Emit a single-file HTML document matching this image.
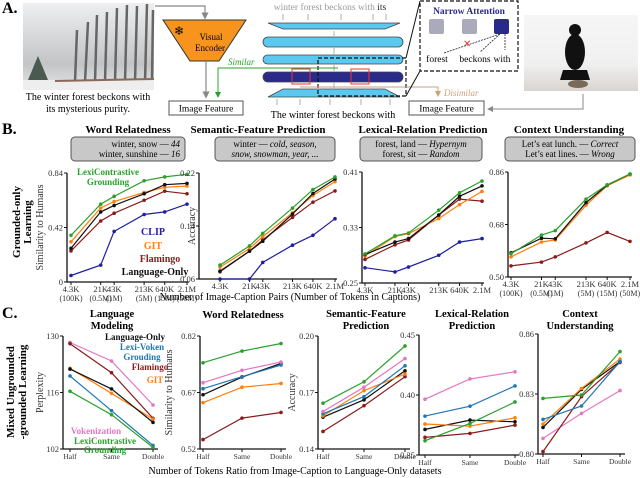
<!DOCTYPE html>
<html><head><meta charset="utf-8"><style>
html,body{margin:0;padding:0;background:#fff;}
svg{display:block;font-family:"Liberation Serif",serif;}
</style></head><body>
<svg id="fig" width="640" height="478" viewBox="0 0 640 478" xmlns="http://www.w3.org/2000/svg">
<defs>
<linearGradient id="sky" x1="0" y1="0" x2="0" y2="1"><stop offset="0" stop-color="#eeeff1"/><stop offset="0.7" stop-color="#c2c4c6"/><stop offset="1" stop-color="#e6e6e8"/></linearGradient>
<linearGradient id="floor" x1="0" y1="0" x2="0" y2="1"><stop offset="0" stop-color="#f6f6f6"/><stop offset="0.65" stop-color="#f0f0f0"/><stop offset="1" stop-color="#d9d4d0"/></linearGradient>
<marker id="ah" markerWidth="6" markerHeight="6" refX="3" refY="3" orient="auto"><path d="M0,0 L6,3 L0,6 z" fill="#888"/></marker>
<marker id="ahg" markerWidth="6" markerHeight="6" refX="3" refY="3" orient="auto"><path d="M0,0 L6,3 L0,6 z" fill="#2ca02c"/></marker>
<marker id="aht" markerWidth="6" markerHeight="6" refX="3" refY="3" orient="auto"><path d="M0,0 L6,3 L0,6 z" fill="#c9a27a"/></marker>
</defs>
<g>
<text x="2" y="13" font-size="16" font-weight="bold">A.</text>
<g>
<rect x="23" y="3" width="131" height="87" fill="url(#sky)"/>
<path d="M75,82 L77,30 M85,82 L88,22 M95,82 L97,15 M105,82 L107,12 M115,82 L117,8 M125,82 L127,5 M135,82 L137,6 M145,82 L147,4 M152,82 L153,10" stroke="#666" stroke-width="2.5"/>
<path d="M28,80 L38,56 L48,80 z" fill="#4a5a50"/>
<rect x="23" y="80" width="131" height="10" fill="#eeeeee"/>
<path d="M55,81 L154,79" stroke="#8a6a5a" stroke-width="2"/>
</g>
<text x="88" y="100" font-size="10" text-anchor="middle">The winter forest beckons with</text>
<text x="88" y="112" font-size="10" text-anchor="middle">its mysterious purity.</text>
<path d="M155,6 L205,6 L205,16" fill="none" stroke="#888" stroke-width="1.2" marker-end="url(#ah)"/>
<polygon points="163,20 246,20 219,61 190,61" fill="#f7941d" stroke="#333" stroke-width="1"/>
<text x="174" y="35" font-size="12">❄</text>
<text x="211" y="40" font-size="9" text-anchor="middle">Visual</text>
<text x="210" y="51" font-size="9" text-anchor="middle">Encoder</text>
<path d="M206,61 L206,95" stroke="#888" stroke-width="1.2" marker-end="url(#ah)"/>
<rect x="169" y="101" width="74" height="14" fill="#fff" stroke="#555"/>
<text x="206" y="111.5" font-size="9.5" text-anchor="middle">Image Feature</text>
<text x="330" y="10" font-size="9.5" fill="#999" text-anchor="middle">winter forest beckons with <tspan fill="#222">its</tspan></text>
<g stroke="#999" stroke-width="0.8" fill="none">
<path d="M283,20 V14 M308,20 V14 M341,20 V14 M373,20 V14 M386,20 V14 M334,36 V31 M334,54 V48 M334,71 V65 M334,88 V83 M277,105 V99 M300,105 V99 M330,105 V99 M361,105 V99 M390,105 V99"/>
</g>
<polygon points="268,23 400,23 385,29 283,29" fill="#5bc8ef" stroke="#444" stroke-width="0.8"/>
<rect x="263" y="37" width="140" height="10" rx="5" fill="#5bc8ef" stroke="#444" stroke-width="0.8"/>
<rect x="263" y="55" width="140" height="9" rx="4.5" fill="#5bc8ef" stroke="#444" stroke-width="0.8"/>
<rect x="263" y="72" width="140" height="10" rx="5" fill="#2a2a8a" stroke="#444" stroke-width="0.8"/>
<polygon points="283,89 385,89 400,97 268,97" fill="#5bc8ef" stroke="#444" stroke-width="0.8"/>
<rect x="292" y="69" width="18" height="15" fill="none" stroke="#e33" stroke-width="1"/>
<rect x="351" y="69" width="18" height="15" fill="none" stroke="#e33" stroke-width="1"/>
<rect x="318" y="58" width="88" height="38" fill="none" stroke="#111" stroke-dasharray="4,2" stroke-width="1.2"/>
<text x="333" y="118" font-size="10" text-anchor="middle">The winter forest beckons with</text>
<path d="M338,68 L218,68 L218,95" fill="none" stroke="#2ca02c" stroke-width="1" marker-end="url(#ahg)"/>
<text x="228" y="65" font-size="9" font-style="italic" fill="#2ca02c">Similar</text>
<path d="M300,87 L438,87 L438,94" fill="none" stroke="#c9a27a" stroke-width="1" marker-end="url(#aht)"/>
<text x="444" y="96" font-size="9" font-style="italic" fill="#c9a27a">Disimilar</text>
<rect x="409" y="101" width="75" height="14" fill="#fff" stroke="#555"/>
<text x="446.5" y="111.5" font-size="9.5" text-anchor="middle">Image Feature</text>
<path d="M583,94 L583,109 L490,109" fill="none" stroke="#888" stroke-width="1" marker-end="url(#ah)"/>
<path d="M406,58 L420,1 M406,96 L420,71" stroke="#111" stroke-width="1"/>
<rect x="420" y="1" width="98" height="70" fill="#fff" stroke="#111" stroke-dasharray="4,2" stroke-width="1.2"/>
<text x="469" y="14" font-size="9.5" font-weight="bold" fill="#2a2a8a" text-anchor="middle">Narrow Attention</text>
<rect x="429" y="19" width="15" height="15" rx="2" fill="#aab"/>
<rect x="462" y="19" width="15" height="15" rx="2" fill="#aab"/>
<rect x="494" y="19" width="15" height="15" rx="2" fill="#2a2a8a"/>
<path d="M500,34 L444,53 M500,34 L480,52 M505,34 L505,50" stroke="#222" stroke-width="0.8" stroke-dasharray="2,1"/>
<text x="463" y="47" font-size="10" fill="#e33">✕</text>
<text x="437" y="62" font-size="9.5" text-anchor="middle">forest</text>
<text x="475" y="62" font-size="9.5" text-anchor="middle">beckons</text>
<text x="502" y="62" font-size="9.5" text-anchor="middle">with</text>
<g>
<rect x="524" y="15" width="114" height="76" fill="url(#floor)"/>
<ellipse cx="575" cy="52" rx="10" ry="18" fill="#111"/>
<circle cx="575" cy="30" r="6" fill="#111"/>
<path d="M563,70 L587,70 L590,80 L560,80 z" fill="#111"/>
<ellipse cx="578" cy="84" rx="10" ry="4" fill="#7a6a5a"/>
</g>
</g>

<g id="charts"></g>
</svg>
<script>
// ---------- Panel B data ----------
var bTickLabels = ["4.3K","21K","43K","213K","640K","2.1M"];
var bTickSub = ["(100K)","(0.5M)","(1M)","(5M)","(15M)","(50M)"];
var bPairs = [4.3, 21, 43, 213, 640, 2100];
var wrGreen = [0.36,0.60,0.66,0.78,0.81,0.83];
var wrBlack = [0.26,0.54,0.59,0.68,0.75,0.76];
var wrOrange = [0.31,0.57,0.62,0.69,0.73,0.74];
var wrRed = [0.24,0.47,0.53,0.63,0.70,0.68];
var wrBlue = [0.05,0.13,0.39,0.52,0.54,0.60];
var sfGreen = [0.081,0.110,0.129,0.167,0.195,0.214];
var sfBlack = [0.072,0.102,0.117,0.158,0.189,0.211];
var sfOrange = [0.078,0.106,0.124,0.160,0.186,0.207];
var sfRed = [0.071,0.102,0.119,0.153,0.176,0.193];
var sfBlue = [0.060,0.060,0.085,0.111,0.126,0.151];
var lrGreen = [0.292,0.318,0.322,0.355,0.380,0.397];
var lrBlack = [0.291,0.309,0.314,0.348,0.375,0.390];
var lrOrange = [0.289,0.317,0.321,0.343,0.363,0.382];
var lrRed = [0.284,0.305,0.312,0.348,0.371,0.368];
var lrBlue = [0.272,0.266,0.273,0.290,0.309,0.314];
var cuGreen = [0.580,0.644,0.659,0.767,0.816,0.853];
var cuBlack = [0.583,0.633,0.631,0.755,0.815,0.853];
var cuOrange = [0.569,0.620,0.627,0.746,0.813,0.850];
var cuRed = [0.538,0.551,0.569,0.617,0.653,0.622];
// ---------- Panel C data ----------
var cCats = ["Half","Same","Double"];
var lmPink = [128.4,123.8,112.9];
var lmRed = [128.1,120.9,109.6];
var lmOrange = [122.0,115.8,109.4];
var lmBlack = [121.8,116.9,108.6];
var lmBlue = [120.1,111.5,102.9];
var lmGreen = [116.3,110.5,102.4];
var cwGreen = [0.749,0.780,0.800];
var cwPink = [0.696,0.729,0.751];
var cwBlue = [0.680,0.712,0.743];
var cwBlack = [0.664,0.711,0.747];
var cwOrange = [0.643,0.684,0.694];
var cwRed = [0.545,0.602,0.617];
var csGreen = [0.1643,0.1757,0.1947];
var csPink = [0.1599,0.1728,0.1880];
var csBlue = [0.1587,0.1678,0.1842];
var csOrange = [0.1576,0.1710,0.1798];
var csBlack = [0.1569,0.1661,0.1815];
var csRed = [0.1493,0.1630,0.1784];
var clPink = [0.3965,0.4134,0.4193];
var clBlue = [0.3824,0.3907,0.4076];
var clGreen = [0.3619,0.3763,0.3942];
var clOrange = [0.3758,0.3741,0.3810];
var clBlack = [0.3713,0.3791,0.3777];
var clRed = [0.3647,0.3680,0.3749];
var ccGreen = [0.8278,0.8295,0.8512];
var ccBlue = [0.8173,0.8240,0.8462];
var ccOrange = [0.8150,0.8328,0.8475];
var ccBlack = [0.8133,0.8323,0.8462];
var ccPink = [0.8078,0.8203,0.8317];
var ccRed = [0.8012,0.8287,0.8458];

var C = {green:"#2ca02c",black:"#111",orange:"#ff7f0e",red:"#8b1a1a",blue:"#1f1fa0",pink:"#e377c2",lblue:"#1f77b4"};
var NS="http://www.w3.org/2000/svg";
var root=document.getElementById("charts");
function mk(tag,attrs,parent,txt){var e=document.createElementNS(NS,tag);for(var k in attrs)e.setAttribute(k,attrs[k]);if(txt!==undefined)e.textContent=txt;(parent||root).appendChild(e);return e;}

function makeAxes(cfg){
  var g=mk("g",{});
  
  
  var y=function(v){return cfg.yb-(v-cfg.ymin)/(cfg.ymax-cfg.ymin)*(cfg.yb-cfg.yt);};
  var ax=mk("path",{d:"M"+cfg.ax+","+cfg.yt+" V"+cfg.yb+" H"+cfg.xr,stroke:"#111","stroke-width":1.3,fill:"none"},g);
  
  
  cfg.yticks.forEach(function(t,i){
    mk("path",{d:"M"+(cfg.ax-3)+","+y(t)+" H"+cfg.ax,stroke:"#111"},g);
    var lt=mk("text",{x:cfg.ax-4,y:y(t)+3,"font-size":8.5,"text-anchor":"end",fill:"#333"},g,cfg.ylabels[i]);
    
    
  });
  var yl=mk("text",{x:0,y:0,"font-size":10,"text-anchor":"middle",fill:"#333",transform:"translate("+cfg.ylx+","+((cfg.yt+cfg.yb)/2)+") rotate(-90)"},g,cfg.ytitle);
  
  
  return {g:g,y:y};
}
function line(g,xs,vals,yf,col,name){
  var d=vals.map(function(v,i){return (i?"L":"M")+xs[i].toFixed(1)+","+yf(v).toFixed(1);}).join(" ");
  var p=mk("path",{d:d,stroke:col,"stroke-width":1.2,fill:"none"},g);
  
  
  vals.forEach(function(v,i){
    var c=mk("circle",{cx:xs[i],cy:yf(v),r:1.8,fill:col},g);
    
    
  });
}
function bChart(o){
  var a=makeAxes(o);
  var lmin=Math.log(bPairs[0]),lmax=Math.log(bPairs[bPairs.length-1]);
  var xf=function(v){return o.x0+(Math.log(v)-lmin)/(lmax-lmin)*(o.x1-o.x0);};
  var xs=bPairs.map(xf);
  xs.forEach(function(x,i){
    mk("path",{d:"M"+x+","+o.yb+" v3",stroke:"#111"},a.g);
    var t=mk("text",{x:x,y:o.yb+10,"font-size":8.5,"text-anchor":"middle",fill:"#333"},a.g,bTickLabels[i]);
    
    
    if(o.sub){var s=mk("text",{x:x,y:o.yb+19,"font-size":8,"text-anchor":"middle",fill:"#333"},a.g,bTickSub[i]);
      
      }
  });
  o.series.forEach(function(s){line(a.g,xs,s[0],a.y,s[1],s[2]);});
}
bChart({name:"chart-b-word-relatedness",ax:67,yt:173,yb:282,xr:189,ymin:0,ymax:0.84,yticks:[0,0.42,0.84],ylabels:["0","0.42","0.84"],ytitle:"Similarity to Humans",ylx:43,x0:71,x1:187,sub:true,
  series:[[wrBlue,C.blue,"clip"],[wrRed,C.red,"flamingo"],[wrOrange,C.orange,"git"],[wrBlack,C.black,"language-only"],[wrGreen,C.green,"lexicontrastive"]]});
bChart({name:"chart-b-semantic-feature",ax:199,yt:173,yb:279,xr:337,ymin:0.06,ymax:0.22,yticks:[0.06,0.14,0.22],ylabels:["0.06","0.14","0.22"],ytitle:"Accuracy",ylx:195,x0:220,x1:335,sub:false,
  series:[[sfBlue,C.blue,"clip"],[sfRed,C.red,"flamingo"],[sfOrange,C.orange,"git"],[sfBlack,C.black,"language-only"],[sfGreen,C.green,"lexicontrastive"]]});
bChart({name:"chart-b-lexical-relation",ax:362,yt:172,yb:283,xr:484,ymin:0.25,ymax:0.41,yticks:[0.25,0.33,0.41],ylabels:["0.25","0.33","0.41"],ytitle:"",ylx:340,x0:365,x1:482,sub:false,
  series:[[lrBlue,C.blue,"clip"],[lrRed,C.red,"flamingo"],[lrOrange,C.orange,"git"],[lrBlack,C.black,"language-only"],[lrGreen,C.green,"lexicontrastive"]]});
bChart({name:"chart-b-context-understanding",ax:508,yt:172,yb:277,xr:632,ymin:0.50,ymax:0.86,yticks:[0.50,0.68,0.86],ylabels:["0.50","0.68","0.86"],ytitle:"",ylx:490,x0:511,x1:630,sub:true,
  series:[[cuRed,C.red,"flamingo"],[cuOrange,C.orange,"git"],[cuBlack,C.black,"language-only"],[cuGreen,C.green,"lexicontrastive"]]});
function cChart(o){
  var a=makeAxes(o);
  var xs=[o.xh,(o.xh+o.xd)/2,o.xd];
  xs.forEach(function(x,i){
    mk("path",{d:"M"+x+","+o.yb+" v3",stroke:"#111"},a.g);
    var t=mk("text",{x:x,y:o.yb+10,"font-size":7.5,"text-anchor":"middle",fill:"#333"},a.g,cCats[i]);
    
    
  });
  o.series.forEach(function(s){line(a.g,xs,s[0],a.y,s[1],s[2]);});
}
cChart({name:"chart-c-language-modeling",ax:63,yt:336,yb:449,xr:158,ymin:102,ymax:130,yticks:[102,116,130],ylabels:["102","116","130"],ytitle:"Perplexity",ylx:43,xh:70,xd:153,
  series:[[lmPink,C.pink,"vokenization"],[lmRed,C.red,"flamingo"],[lmOrange,C.orange,"git"],[lmBlack,C.black,"language-only"],[lmBlue,C.lblue,"lexi-voken"],[lmGreen,C.green,"lexicontrastive"]]});
cChart({name:"chart-c-word-relatedness",ax:200,yt:336,yb:449,xr:286,ymin:0.52,ymax:0.82,yticks:[0.52,0.67,0.82],ylabels:["0.52","0.67","0.82"],ytitle:"Similarity to Humans",ylx:172,xh:203,xd:281,
  series:[[cwRed,C.red,"flamingo"],[cwOrange,C.orange,"git"],[cwBlack,C.black,"language-only"],[cwBlue,C.lblue,"lexi-voken"],[cwPink,C.pink,"vokenization"],[cwGreen,C.green,"lexicontrastive"]]});
cChart({name:"chart-c-semantic-feature",ax:318,yt:336,yb:449,xr:410,ymin:0.14,ymax:0.20,yticks:[0.14,0.17,0.20],ylabels:["0.14","0.17","0.20"],ytitle:"Accuracy",ylx:295,xh:323,xd:405,
  series:[[csRed,C.red,"flamingo"],[csBlack,C.black,"language-only"],[csOrange,C.orange,"git"],[csBlue,C.lblue,"lexi-voken"],[csPink,C.pink,"vokenization"],[csGreen,C.green,"lexicontrastive"]]});
cChart({name:"chart-c-lexical-relation",ax:419,yt:335,yb:455,xr:519,ymin:0.35,ymax:0.45,yticks:[0.35,0.40,0.45],ylabels:["0.35","0.40","0.45"],ytitle:"",ylx:400,xh:425,xd:515,
  series:[[clRed,C.red,"flamingo"],[clBlack,C.black,"language-only"],[clOrange,C.orange,"git"],[clGreen,C.green,"lexicontrastive"],[clBlue,C.lblue,"lexi-voken"],[clPink,C.pink,"vokenization"]]});
cChart({name:"chart-c-context-understanding",ax:538,yt:334,yb:454,xr:625,ymin:0.80,ymax:0.86,yticks:[0.80,0.83,0.86],ylabels:["0.80","0.83","0.86"],ytitle:"",ylx:520,xh:543,xd:620,
  series:[[ccPink,C.pink,"vokenization"],[ccRed,C.red,"flamingo"],[ccBlack,C.black,"language-only"],[ccOrange,C.orange,"git"],[ccBlue,C.lblue,"lexi-voken"],[ccGreen,C.green,"lexicontrastive"]]});
</script>
<svg width="640" height="478" viewBox="0 0 640 478" style="position:absolute;left:0;top:0;font-family:'Liberation Serif',serif" xmlns="http://www.w3.org/2000/svg">
<g font-weight="bold">
<text x="2" y="134" font-size="16">B.</text>
<text x="2" y="318" font-size="16">C.</text>
<text x="128" y="133" font-size="11" text-anchor="middle">Word Relatedness</text>
<text x="258" y="133" font-size="11" text-anchor="middle">Semantic-Feature Prediction</text>
<text x="423" y="133" font-size="11" text-anchor="middle">Lexical-Relation Prediction</text>
<text x="569" y="133" font-size="11" text-anchor="middle">Context Understanding</text>
<text transform="translate(20,222) rotate(-90)" font-size="11" text-anchor="middle">Grounded-only</text>
<text transform="translate(31,222) rotate(-90)" font-size="11" text-anchor="middle">Learning</text>
<text transform="translate(14,392) rotate(-90)" font-size="11" text-anchor="middle">Mixed Ungrounded</text>
<text transform="translate(26,392) rotate(-90)" font-size="11" text-anchor="middle">-grounded Learning</text>
<text x="112" y="317" font-size="10.5" text-anchor="middle">Language</text>
<text x="112" y="329" font-size="10.5" text-anchor="middle">Modeling</text>
<text x="243" y="318" font-size="10.5" text-anchor="middle">Word Relatedness</text>
<text x="366" y="317" font-size="10.5" text-anchor="middle">Semantic-Feature</text>
<text x="366" y="329" font-size="10.5" text-anchor="middle">Prediction</text>
<text x="472" y="317" font-size="10.5" text-anchor="middle">Lexical-Relation</text>
<text x="472" y="329" font-size="10.5" text-anchor="middle">Prediction</text>
<text x="580" y="317" font-size="10.5" text-anchor="middle">Context</text>
<text x="580" y="329" font-size="10.5" text-anchor="middle">Understanding</text>
<text x="108" y="175" font-size="9" fill="#2ca02c" text-anchor="middle">LexiContrastive</text>
<text x="108" y="185" font-size="9" fill="#2ca02c" text-anchor="middle">Grounding</text>
<text x="153" y="235" font-size="10" fill="#1f1fa0" text-anchor="middle">CLIP</text>
<text x="153" y="249" font-size="10" fill="#ff7f0e" text-anchor="middle">GIT</text>
<text x="160" y="262" font-size="10" fill="#8b1a1a" text-anchor="middle">Flamingo</text>
<text x="155" y="275" font-size="10" fill="#111" text-anchor="middle">Language-Only</text>
<text x="135" y="340" font-size="9" fill="#111" text-anchor="middle">Language-Only</text>
<text x="142" y="350" font-size="9" fill="#1f77b4" text-anchor="middle">Lexi-Voken</text>
<text x="142" y="360" font-size="9" fill="#1f77b4" text-anchor="middle">Grouding</text>
<text x="150" y="370" font-size="9" fill="#8b1a1a" text-anchor="middle">Flamingo</text>
<text x="155" y="383" font-size="9" fill="#ff7f0e" text-anchor="middle">GIT</text>
<text x="96" y="434" font-size="9" fill="#e377c2" text-anchor="middle">Vokenization</text>
<text x="105" y="444" font-size="9" fill="#2ca02c" text-anchor="middle">LexiContrastive</text>
<text x="105" y="453" font-size="9" fill="#2ca02c" text-anchor="middle">Grounding</text>
</g>
<g font-size="9">
<rect x="71" y="137" width="114" height="24" rx="4" fill="#c8c8c8" stroke="#555"/>
<text x="180" y="147" text-anchor="end">winter, snow — <tspan font-style="italic">44</tspan></text>
<text x="180" y="157" text-anchor="end">winter, sunshine — <tspan font-style="italic">16</tspan></text>
<rect x="215" y="137" width="120" height="24" rx="4" fill="#c8c8c8" stroke="#555"/>
<text x="275" y="147" text-anchor="middle">winter — <tspan font-style="italic">cold, season,</tspan></text>
<text x="275" y="157" text-anchor="middle" font-style="italic">snow, snowman, year, ...</text>
<rect x="360" y="137" width="122" height="24" rx="4" fill="#c8c8c8" stroke="#555"/>
<text x="421" y="147" text-anchor="middle">forest, land — <tspan font-style="italic">Hypernym</tspan></text>
<text x="421" y="157" text-anchor="middle">forest, sit — <tspan font-style="italic">Random</tspan></text>
<rect x="505" y="137" width="130" height="24" rx="4" fill="#c8c8c8" stroke="#555"/>
<text x="570" y="147" text-anchor="middle">Let’s eat lunch. — <tspan font-style="italic">Correct</tspan></text>
<text x="570" y="157" text-anchor="middle">Let’s eat lines. — <tspan font-style="italic">Wrong</tspan></text>
</g>
<text x="290" y="300" font-size="10" text-anchor="middle">Number of Image-Caption Pairs (Number of Tokens in Captions)</text>
<text x="295" y="474" font-size="10" text-anchor="middle">Number of Tokens Ratio from Image-Caption to Language-Only datasets</text>
</svg>
</body></html>
